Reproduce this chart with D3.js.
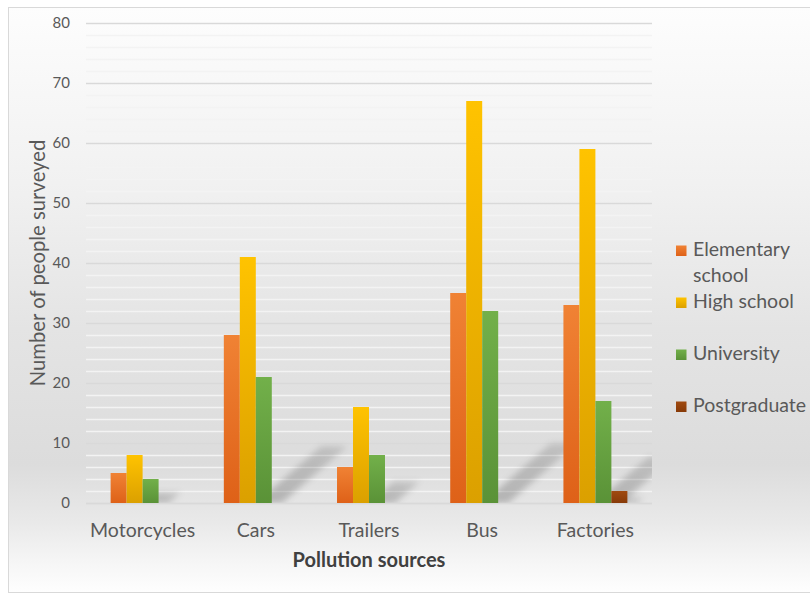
<!DOCTYPE html>
<html>
<head>
<meta charset="utf-8">
<script src="https://cdn.jsdelivr.net/npm/d3@7/dist/d3.min.js"></script>
<style>
  html, body { margin: 0; padding: 0; background: #ffffff; }
  svg { display: block; font-family: Lato, "Open Sans", sans-serif; }
</style>
</head>
<body>
<svg id="chart" width="810" height="594"></svg>
<script>
// Survey: pollution sources named, by education level
const categories = ["Motorcycles", "Cars", "Trailers", "Bus", "Factories"];
const seriesNames = ["Elementary school", "High school", "University", "Postgraduate"];
const elementary = [5, 28, 6, 35, 33];
const highSchool = [8, 41, 16, 67, 59];
const university = [4, 21, 8, 32, 17];
const postgraduate = [0, 0, 0, 0, 2];
const yTicks = [0, 10, 20, 30, 40, 50, 60, 70, 80];

const seriesValues = [elementary, highSchool, university, postgraduate];
const colors = [
  { top: "#f08234", bottom: "#de6118" },
  { top: "#ffc300", bottom: "#dba000" },
  { top: "#72b04a", bottom: "#5a9237" },
  { top: "#a04a10", bottom: "#873a08" }
];
// series that cast the diagonal drop shadow
const shadowSeries = ["University", "Postgraduate"];

const svg = d3.select("#chart");
const W = 810, H = 594;
const plot = { left: 86, right: 652, top: 23, bottom: 503 };

const defs = svg.append("defs");

// chart-area background: light at the top, grey low down, fading out at the bottom
const bg = defs.append("linearGradient").attr("id", "bgGrad")
  .attr("x1", 0).attr("y1", 0).attr("x2", 0).attr("y2", 1);
[[0, "#fdfdfd"], [0.3, "#f1f1f1"], [0.55, "#e4e4e4"], [0.78, "#dcdcdc"],
 [0.88, "#e9e9e9"], [0.95, "#f6f6f6"], [1, "#fefefe"]]
  .forEach(([o, c]) => bg.append("stop").attr("offset", o).attr("stop-color", c));

colors.forEach((c, i) => {
  const g = defs.append("linearGradient").attr("id", "barGrad" + i)
    .attr("x1", 0).attr("y1", 0).attr("x2", 0).attr("y2", 1);
  g.append("stop").attr("offset", 0).attr("stop-color", c.top);
  g.append("stop").attr("offset", 1).attr("stop-color", c.bottom);
});

const blur = defs.append("filter").attr("id", "shadowBlur")
  .attr("x", "-50%").attr("y", "-50%").attr("width", "200%").attr("height", "200%");
blur.append("feGaussianBlur").attr("stdDeviation", 3.4);

defs.append("clipPath").attr("id", "plotClip").append("rect")
  .attr("x", plot.left).attr("y", plot.top)
  .attr("width", plot.right - plot.left).attr("height", plot.bottom - plot.top);

svg.append("rect")
  .attr("x", 8.5).attr("y", 7.5).attr("width", W).attr("height", 585)
  .attr("fill", "url(#bgGrad)").attr("stroke", "#d9d9d9").attr("stroke-width", 1);

// scales
const x0 = d3.scaleBand().domain(categories)
  .range([plot.left, plot.right]).paddingInner(0.435).paddingOuter(0.2175);
const x1 = d3.scaleBand().domain(seriesNames).range([0, x0.bandwidth()]);
const y = d3.scaleLinear().domain([0, 80]).range([plot.bottom, plot.top]);

// minor gridlines every 2, major every 10
const minorTicks = d3.range(2, 80, 2).filter(v => v % 10 !== 0);
svg.append("g").selectAll("line").data(minorTicks).join("line")
  .attr("x1", plot.left).attr("x2", plot.right)
  .attr("y1", d => Math.round(y(d)) + 0.5).attr("y2", d => Math.round(y(d)) + 0.5)
  .attr("stroke", "#f3f3f3").attr("stroke-width", 1.3);

const yAxis = d3.axisLeft(y).tickValues(yTicks).tickSize(-(plot.right - plot.left)).tickPadding(16);
const yG = svg.append("g").attr("transform", `translate(${plot.left},0)`).call(yAxis);
yG.select(".domain").remove();
yG.selectAll(".tick line").attr("stroke", "#d9d9d9").attr("stroke-width", 1.3);
yG.selectAll(".tick text").attr("fill", "#595959").attr("font-size", 15)
  .attr("font-family", "Lato, sans-serif");

// shadows
const shadowLayer = svg.append("g").attr("clip-path", "url(#plotClip)")
  .attr("filter", "url(#shadowBlur)");
const shadowGrad = defs.append("linearGradient").attr("id", "shadowGrad")
  .attr("x1", 0).attr("y1", 1).attr("x2", 1).attr("y2", 0);
shadowGrad.append("stop").attr("offset", 0).attr("stop-color", "#000").attr("stop-opacity", 0.22);
shadowGrad.append("stop").attr("offset", 1).attr("stop-color", "#000").attr("stop-opacity", 0.12);

seriesNames.forEach((name, si) => {
  if (!shadowSeries.includes(name)) return;
  categories.forEach((cat, ci) => {
    const v = seriesValues[si][ci];
    if (!v) return;
    const xa = x0(cat) + x1(name), xb = xa + x1.bandwidth();
    const h = Math.min(y(0) - y(v), 132);
    const dx = 0.52 * h, dy = 0.45 * h;
    shadowLayer.append("path")
      .attr("d", `M${xa},${y(0)} L${xb + 10},${y(0)} L${xb + 10 + dx},${y(0) - dy} L${xa + dx},${y(0) - dy} Z`)
      .attr("fill", "url(#shadowGrad)");
  });
});

// baseline
svg.append("line").attr("x1", plot.left).attr("x2", plot.right)
  .attr("y1", plot.bottom + 0.5).attr("y2", plot.bottom + 0.5)
  .attr("stroke", "#d9d9d9").attr("stroke-width", 1.3);

// bars
const groups = svg.append("g").selectAll("g").data(categories).join("g")
  .attr("transform", d => `translate(${x0(d)},0)`);
groups.selectAll("rect")
  .data((cat, ci) => seriesNames.map((s, si) => ({ s, si, v: seriesValues[si][ci] })).filter(d => d.v > 0))
  .join("rect")
  .attr("x", d => x1(d.s)).attr("width", x1.bandwidth())
  .attr("y", d => y(d.v)).attr("height", d => y(0) - y(d.v))
  .attr("fill", d => `url(#barGrad${d.si})`);

// category labels
const xAxis = d3.axisBottom(x0).tickSize(0).tickPadding(20);
const xG = svg.append("g").attr("transform", `translate(0,${plot.bottom})`).call(xAxis);
xG.select(".domain").remove();
xG.selectAll(".tick text").attr("fill", "#595959").attr("font-size", 19.5)
  .attr("font-family", "Lato, sans-serif");

// axis titles
svg.append("text").attr("x", (plot.left + plot.right) / 2).attr("y", 567)
  .attr("text-anchor", "middle").attr("font-weight", "bold").attr("font-size", 20)
  .attr("fill", "#404040").text("Pollution sources");
svg.append("text").attr("transform", "translate(45,263) rotate(-90)")
  .attr("text-anchor", "middle").attr("font-size", 20.3)
  .attr("fill", "#595959").text("Number of people surveyed");

// legend
const legendRows = [
  { lines: ["Elementary", "school"], base: 256 },
  { lines: ["High school"], base: 308 },
  { lines: ["University"], base: 360 },
  { lines: ["Postgraduate"], base: 412 }
];
const lg = svg.append("g");
legendRows.forEach((row, i) => {
  lg.append("rect").attr("x", 676).attr("y", row.base - 10.5).attr("width", 10.5).attr("height", 10.5)
    .attr("fill", `url(#barGrad${i})`);
  const t = lg.append("text").attr("x", 693).attr("y", row.base)
    .attr("font-size", 19.5).attr("fill", "#595959");
  row.lines.forEach((ln, li) => {
    t.append("tspan").attr("x", 693).attr("dy", li === 0 ? 0 : 26).text(ln);
  });
});
</script>
</body>
</html>
